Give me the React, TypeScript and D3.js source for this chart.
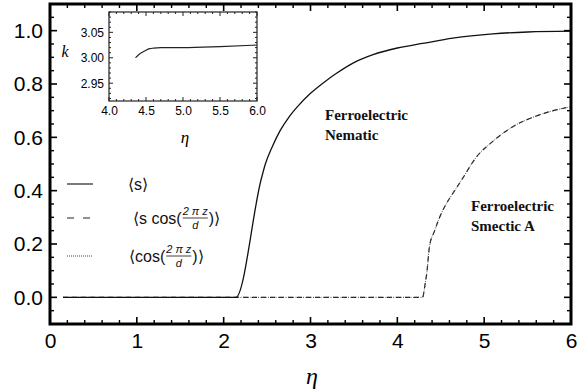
import React, { useRef, useEffect } from "react";
import * as d3 from "d3";

// <s> (solid)
const etaS = [0.15, 2.14, 2.43, 2.48, 2.56, 2.65, 2.75, 2.85, 3.0, 3.15, 3.3, 3.5, 3.72, 4.0, 4.29, 4.64, 5.1, 5.5, 6.0];
const sVals = [0, 0, 0.44, 0.5, 0.565, 0.625, 0.675, 0.715, 0.765, 0.805, 0.84, 0.88, 0.91, 0.935, 0.952, 0.972, 0.988, 0.995, 0.998];

// <s cos(2πz/d)> (dashed) and <cos(2πz/d)> (dotted) lie on top of each other
const etaA = [0.15, 4.29, 4.32, 4.34, 4.37, 4.43, 4.5, 4.57, 4.66, 4.74, 4.91, 5.1, 5.33, 5.6, 6.0];
const sCosVals = [0, 0, 0.05, 0.093, 0.19, 0.25, 0.31, 0.354, 0.4, 0.44, 0.526, 0.585, 0.64, 0.68, 0.715];
const cosVals = [0, 0, 0.05, 0.093, 0.19, 0.25, 0.31, 0.354, 0.4, 0.44, 0.526, 0.585, 0.64, 0.68, 0.715];

// inset k(η)
const etaK = [4.36, 4.4, 4.45, 4.5, 4.55, 4.6, 4.7, 5.0, 5.5, 6.0];
const kVals = [3.0, 3.006, 3.011, 3.015, 3.018, 3.019, 3.02, 3.02, 3.022, 3.025];

const xTicks = [0, 1, 2, 3, 4, 5, 6];
const yTicks = [0, 0.2, 0.4, 0.6, 0.8, 1.0];
const insetXTicks = [4, 4.5, 5, 5.5, 6];
const insetYTicks = [2.95, 3.0, 3.05];

const sans = "'Liberation Sans', Arial, Helvetica, sans-serif";
const serif = "'Liberation Serif', 'Times New Roman', serif";

export default function App() {
  const svgRef = useRef<SVGSVGElement>(null);

  useEffect(() => {
    const svg = d3.select(svgRef.current);
    svg.selectAll("*").remove();

    const x = d3.scaleLinear().domain([0, 6]).range([50, 571]);
    const y = d3.scaleLinear().domain([-0.1, 1.1]).range([324, 4]);

    const g = svg.append("g");

    // curves
    const line = (xs: number[], ys: number[]) =>
      d3
        .line<number>()
        .x((_, i) => x(xs[i]))
        .y((d) => y(d))
        .curve(d3.curveMonotoneX)(ys);

    g.append("path").attr("d", line(etaA, sCosVals)).attr("fill", "none")
      .attr("stroke", "#222").attr("stroke-width", 1.2).attr("stroke-dasharray", "5,4");
    g.append("path").attr("d", line(etaA, cosVals)).attr("fill", "none")
      .attr("stroke", "#444").attr("stroke-width", 1).attr("stroke-dasharray", "1,1.5");
    g.append("path").attr("d", line(etaS, sVals)).attr("fill", "none")
      .attr("stroke", "#111").attr("stroke-width", 1.3);

    // ticks on all four sides (inward)
    const [x0, x1] = x.range();
    const [y0, y1] = y.range();
    const xMinor = d3.range(0, 6.001, 0.2).filter((v) => Math.abs(v - Math.round(v)) > 1e-6);
    const yMinor = d3.range(-0.1, 1.1001, 0.05).filter((v) => Math.abs(v * 5 - Math.round(v * 5)) > 1e-6);
    const ticks = g.append("g").attr("stroke", "#000");
    xTicks.forEach((v) => {
      ticks.append("line").attr("x1", x(v)).attr("x2", x(v)).attr("y1", y0).attr("y2", y0 - 7).attr("stroke-width", 1.6);
      ticks.append("line").attr("x1", x(v)).attr("x2", x(v)).attr("y1", y1).attr("y2", y1 + 7).attr("stroke-width", 1.6);
    });
    xMinor.forEach((v) => {
      ticks.append("line").attr("x1", x(v)).attr("x2", x(v)).attr("y1", y0).attr("y2", y0 - 4).attr("stroke-width", 1.4);
      ticks.append("line").attr("x1", x(v)).attr("x2", x(v)).attr("y1", y1).attr("y2", y1 + 4).attr("stroke-width", 1.4);
    });
    yTicks.forEach((v) => {
      ticks.append("line").attr("x1", x0).attr("x2", x0 + 7).attr("y1", y(v)).attr("y2", y(v)).attr("stroke-width", 1.6);
      ticks.append("line").attr("x1", x1).attr("x2", x1 - 7).attr("y1", y(v)).attr("y2", y(v)).attr("stroke-width", 1.6);
    });
    yMinor.forEach((v) => {
      ticks.append("line").attr("x1", x0).attr("x2", x0 + 4).attr("y1", y(v)).attr("y2", y(v)).attr("stroke-width", 1.4);
      ticks.append("line").attr("x1", x1).attr("x2", x1 - 4).attr("y1", y(v)).attr("y2", y(v)).attr("stroke-width", 1.4);
    });

    // frame
    g.append("rect").attr("x", x0).attr("y", y1).attr("width", x1 - x0).attr("height", y0 - y1)
      .attr("fill", "none").attr("stroke", "#000").attr("stroke-width", 3);

    // tick labels
    const xa = g.append("g").attr("transform", `translate(0,${y0})`)
      .call(d3.axisBottom(x).tickValues(xTicks).tickSize(0).tickPadding(9).tickFormat(d3.format("d")));
    const ya = g.append("g").attr("transform", `translate(${x0},0)`)
      .call(d3.axisLeft(y).tickValues(yTicks).tickSize(0).tickPadding(7).tickFormat(d3.format(".1f")));
    [xa, ya].forEach((a) => {
      a.select(".domain").remove();
      a.selectAll("text").attr("font-size", 21).attr("font-family", sans).attr("fill", "#000");
    });

    g.append("text").attr("x", 312).attr("y", 384).attr("text-anchor", "middle")
      .attr("font-family", serif).attr("font-style", "italic").attr("font-size", 24).text("η");

    // region labels
    const region = (lines: string[], lx: number, ly: number) => {
      lines.forEach((t, i) => {
        g.append("text").attr("x", lx).attr("y", ly + i * 20).attr("font-family", serif)
          .attr("font-weight", "bold").attr("font-size", 15).attr("fill", "#111").text(t);
      });
    };
    region(["Ferroelectric", "Nematic"], 325, 120);
    region(["Ferroelectric", "Smectic A"], 471, 211);

    // legend
    const leg = g.append("g");
    const sampleX = [67, 93];
    const rowsY = [184, 218, 256];
    leg.append("line").attr("x1", sampleX[0]).attr("x2", sampleX[1]).attr("y1", rowsY[0]).attr("y2", rowsY[0])
      .attr("stroke", "#333").attr("stroke-width", 1.3);
    leg.append("line").attr("x1", sampleX[0]).attr("x2", sampleX[1]).attr("y1", rowsY[1]).attr("y2", rowsY[1])
      .attr("stroke", "#222").attr("stroke-width", 1.2).attr("stroke-dasharray", "7,9");
    leg.append("line").attr("x1", sampleX[0]).attr("x2", sampleX[1]).attr("y1", rowsY[2]).attr("y2", rowsY[2])
      .attr("stroke", "#444").attr("stroke-width", 1).attr("stroke-dasharray", "1,1");

    const legText = (tx: number, ty: number, before: string, frac: boolean) => {
      const t = leg.append("text").attr("x", tx).attr("y", ty + 6).attr("font-family", sans)
        .attr("font-size", 16).attr("fill", "#111").text(before);
      if (!frac) return;
      const w = (t.node() as SVGTextElement).getComputedTextLength();
      const fx = tx + w + 1;
      const num = leg.append("text").attr("x", fx).attr("y", ty - 3).attr("font-family", sans)
        .attr("font-style", "italic").attr("font-size", 11).attr("fill", "#111").text("2 π z");
      const nw = (num.node() as SVGTextElement).getComputedTextLength();
      leg.append("line").attr("x1", fx).attr("x2", fx + nw).attr("y1", ty).attr("y2", ty)
        .attr("stroke", "#111").attr("stroke-width", 0.8);
      leg.append("text").attr("x", fx + nw / 2).attr("y", ty + 11).attr("text-anchor", "middle")
        .attr("font-family", sans).attr("font-style", "italic").attr("font-size", 11).attr("fill", "#111").text("d");
      leg.append("text").attr("x", fx + nw + 1).attr("y", ty + 6).attr("font-family", sans)
        .attr("font-size", 16).attr("fill", "#111").text(")⟩");
    };
    legText(128, rowsY[0], "⟨s⟩", false);
    legText(133, rowsY[1], "⟨s cos(", true);
    legText(129, rowsY[2], "⟨cos(", true);

    // inset
    const ix = d3.scaleLinear().domain([4, 6]).range([109, 257]);
    const iy = d3.scaleLinear().domain([2.915, 3.09]).range([101, 12]);
    const ins = svg.append("g");
    ins.append("rect").attr("x", 109).attr("y", 12).attr("width", 148).attr("height", 89)
      .attr("fill", "#fff");
    ins.append("path")
      .attr("d", d3.line<number>().x((_, i) => ix(etaK[i])).y((d) => iy(d)).curve(d3.curveMonotoneX)(kVals))
      .attr("fill", "none").attr("stroke", "#222").attr("stroke-width", 1.1);

    const [ix0, ix1] = ix.range();
    const [iy0, iy1] = iy.range();
    const it = ins.append("g").attr("stroke", "#222");
    d3.range(4, 6.001, 0.1).forEach((v) => {
      const major = insetXTicks.some((m) => Math.abs(m - v) < 1e-6);
      const l = major ? 4 : 2;
      it.append("line").attr("x1", ix(v)).attr("x2", ix(v)).attr("y1", iy0).attr("y2", iy0 - l).attr("stroke-width", 1);
      it.append("line").attr("x1", ix(v)).attr("x2", ix(v)).attr("y1", iy1).attr("y2", iy1 + l).attr("stroke-width", 1);
    });
    d3.range(2.92, 3.0901, 0.01).forEach((v) => {
      const major = insetYTicks.some((m) => Math.abs(m - v) < 1e-6);
      const l = major ? 4 : 2;
      it.append("line").attr("x1", ix0).attr("x2", ix0 + l).attr("y1", iy(v)).attr("y2", iy(v)).attr("stroke-width", 1);
      it.append("line").attr("x1", ix1).attr("x2", ix1 - l).attr("y1", iy(v)).attr("y2", iy(v)).attr("stroke-width", 1);
    });
    ins.append("rect").attr("x", 109).attr("y", 12).attr("width", 148).attr("height", 89)
      .attr("fill", "none").attr("stroke", "#222").attr("stroke-width", 1.2);

    const ixa = ins.append("g").attr("transform", `translate(0,${iy0})`)
      .call(d3.axisBottom(ix).tickValues(insetXTicks).tickSize(0).tickPadding(5).tickFormat(d3.format(".1f")));
    const iya = ins.append("g").attr("transform", `translate(${ix0},0)`)
      .call(d3.axisLeft(iy).tickValues(insetYTicks).tickSize(0).tickPadding(5).tickFormat(d3.format(".2f")));
    [ixa, iya].forEach((a) => {
      a.select(".domain").remove();
      a.selectAll("text").attr("font-size", 12).attr("font-family", sans).attr("fill", "#000");
    });
    ins.append("text").attr("x", 185).attr("y", 143).attr("text-anchor", "middle")
      .attr("font-family", serif).attr("font-style", "italic").attr("font-size", 17).text("η");
    ins.append("text").attr("x", 65).attr("y", 57).attr("text-anchor", "middle")
      .attr("font-family", serif).attr("font-style", "italic").attr("font-size", 16).text("k");
  }, []);

  return (
    <svg
      ref={svgRef}
      width={577}
      height={391}
      style={{ position: "absolute", left: 0, top: 0, background: "#fff" }}
    />
  );
}
